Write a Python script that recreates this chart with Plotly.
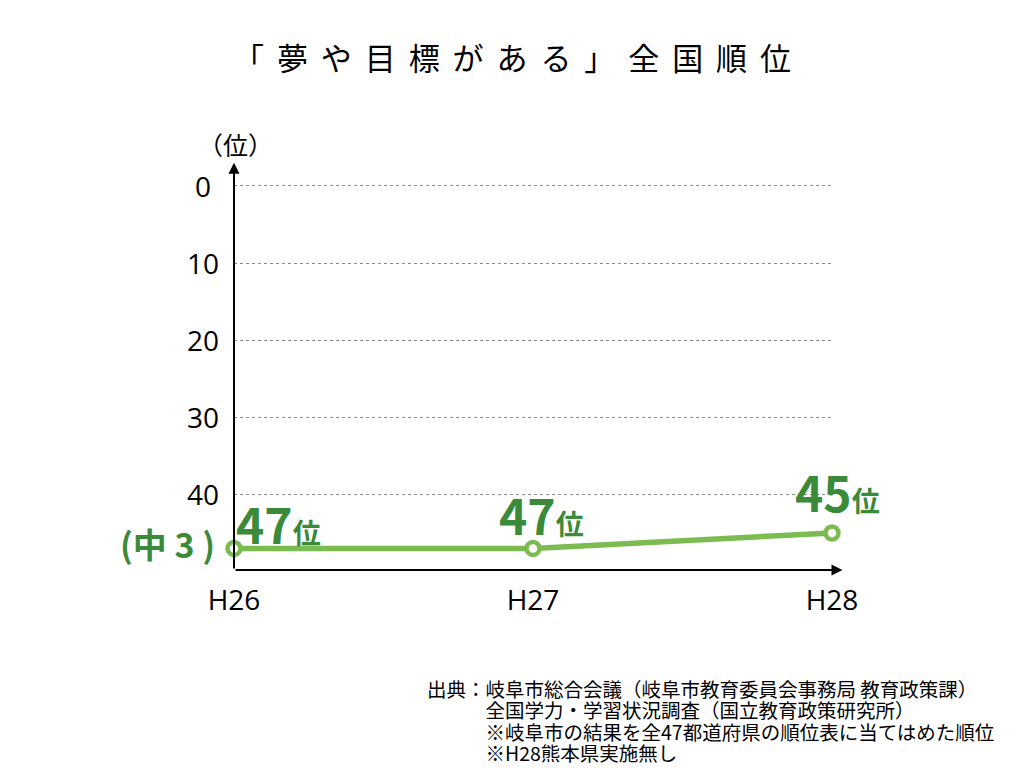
import plotly.graph_objects as go

years = ["H26", "H27", "H28"]
ranks = [47, 47, 45]
rank_labels = ["47", "47", "45"]
y_ticks = [0, 10, 20, 30, 40]

title_text = "「夢や目標がある」全国順位"
unit_label = "（位）"
grade_label = "(中 3 )"
source_lines = [
    "出典：岐阜市総合会議（岐阜市教育委員会事務局 教育政策課）",
    "　　　全国学力・学習状況調査（国立教育政策研究所）",
    "　　　※岐阜市の結果を全47都道府県の順位表に当てはめた順位",
    "　　　※H28熊本県実施無し",
]

FONT = "Noto Sans CJK JP"
LATIN = "Open Sans, Noto Sans CJK JP"
DARK_GREEN = "#3b8a3a"
LINE_GREEN = "#7cbb4f"

W, H = 1024, 768
L, R, T, B = 234, 192, 184, 198
pw, ph = W - L - R, H - T - B


def px_x(v):
    return (v - L) / pw


def px_y(v):
    return (H - B - v) / ph


fig = go.Figure()
fig.add_trace(go.Scatter(
    x=years, y=ranks, mode="lines+markers",
    line=dict(color=LINE_GREEN, width=5.5),
    marker=dict(size=13, color="white", line=dict(color=LINE_GREEN, width=4.5)),
    cliponaxis=False, showlegend=False, hoverinfo="skip",
))

annotations = []
label_pos = [("left", 0, -12), ("center", 8, -3), ("center", 5, 5)]
for i, (anchor, xs, ys) in enumerate(label_pos):
    annotations.append(dict(
        x=years[i], y=ranks[i], xref="x", yref="y",
        text=f"<b>{rank_labels[i]}<span style='font-size:28px'>位</span></b>",
        showarrow=False, xanchor=anchor, yanchor="bottom",
        xshift=xs, yshift=ys,
        font=dict(family=FONT, size=48, color=DARK_GREEN),
    ))
annotations.append(dict(
    x=years[0], y=ranks[0], xref="x", yref="y",
    text=f"<b>{grade_label}</b>", showarrow=False,
    xanchor="right", yanchor="middle", xshift=-17, yshift=5,
    font=dict(family=FONT, size=34, color=DARK_GREEN),
))
# y tick labels (centered)
for v in y_ticks:
    annotations.append(dict(
        x=px_x(203), y=v, xref="paper", yref="y", text=str(v), showarrow=False,
        xanchor="center", yanchor="middle",
        font=dict(family=LATIN, size=28, color="black"),
    ))
# axis arrows
annotations.append(dict(
    x=0, y=-3.0, xref="x", yref="y", ax=0, ay=49.8, axref="x", ayref="y",
    text="", showarrow=True, arrowhead=2, arrowsize=1.1, arrowwidth=2, arrowcolor="black",
))
annotations.append(dict(
    x=2.035, y=49.8, xref="x", yref="y", ax=0, ay=49.8, axref="x", ayref="y",
    text="", showarrow=True, arrowhead=2, arrowsize=1.1, arrowwidth=2, arrowcolor="black",
))
annotations.append(dict(
    x=px_x(235), y=px_y(144), xref="paper", yref="paper", text=unit_label,
    showarrow=False, xanchor="center", yanchor="middle",
    font=dict(family=FONT, size=25, color="black"),
))
line_y = [688, 709.5, 731, 752.5]
for txt, yy in zip(source_lines, line_y):
    annotations.append(dict(
        x=px_x(425), y=px_y(yy), xref="paper", yref="paper", text=txt,
        showarrow=False, xanchor="left", yanchor="middle", align="left",
        font=dict(family=FONT, size=19.5, color="black"),
    ))

fig.update_layout(
    width=W, height=H,
    margin=dict(l=L, r=R, t=T, b=B, autoexpand=False),
    paper_bgcolor="white", plot_bgcolor="white",
    title=dict(text="\u2005\u2006".join(title_text), x=512 / W, xanchor="center",
               y=1 - 59 / H, yanchor="middle",
               font=dict(family=FONT, size=31, color="black")),
    annotations=annotations,
    xaxis=dict(range=[0, 2], showgrid=False, showline=False, zeroline=False,
               tickfont=dict(family=LATIN, size=28, color="black"),
               ticks="", ticklabelstandoff=11, fixedrange=True),
    yaxis=dict(range=[49.8, -0.25], tickvals=y_ticks, showticklabels=False,
               showline=False, zeroline=False,
               showgrid=True, gridcolor="#8a8a8a", gridwidth=1, griddash="dot",
               ticks="", fixedrange=True),
)

fig.write_html("out.html", config={"displayModeBar": False},
               post_script="document.body.style.margin='0';")
